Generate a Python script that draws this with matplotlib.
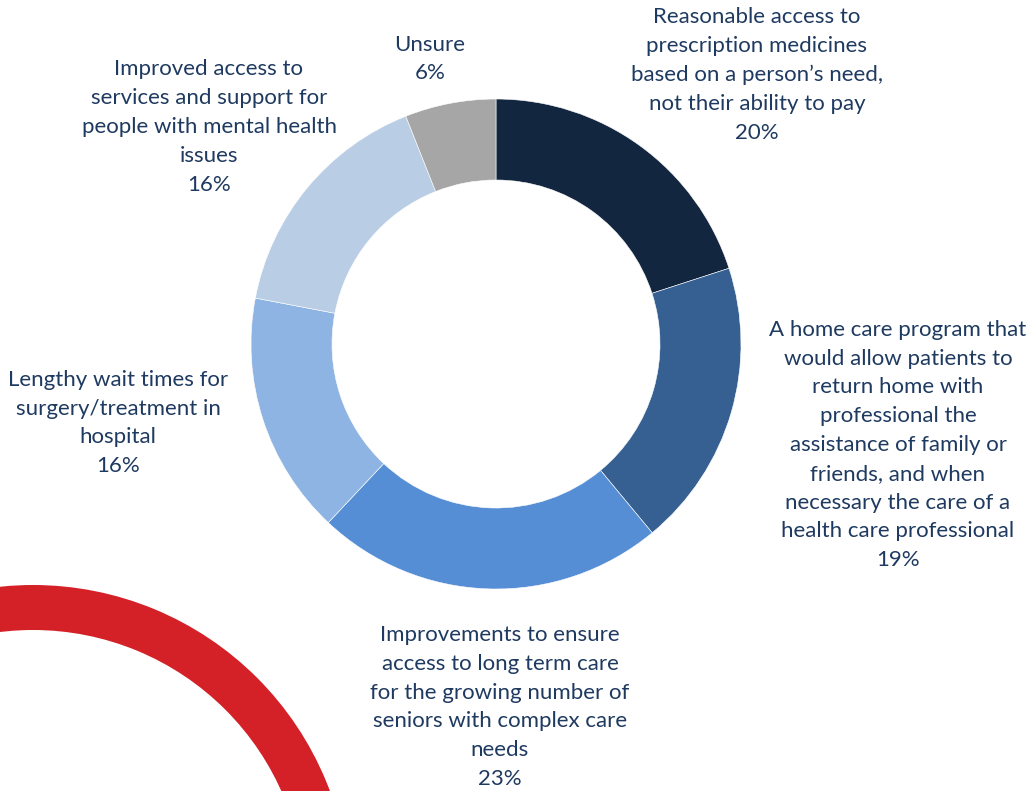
import matplotlib
matplotlib.use("Agg")
import matplotlib.pyplot as plt
from matplotlib.patches import Wedge

categories = [
    "Reasonable access to\nprescription medicines\nbased on a person\u2019s need,\nnot their ability to pay",
    "A home care program that\nwould allow patients to\nreturn home with\nprofessional the\nassistance of family or\nfriends, and when\nnecessary the care of a\nhealth care professional",
    "Improvements to ensure\naccess to long term care\nfor the growing number of\nseniors with complex care\nneeds",
    "Lengthy wait times for\nsurgery/treatment in\nhospital",
    "Improved access to\nservices and support for\npeople with mental health\nissues",
    "Unsure",
]
values = [20, 19, 23, 16, 16, 6]
colors = ["#132640", "#376092", "#558ED5", "#8EB4E3", "#B9CDE5", "#A6A6A6"]

# label anchor centres (pixel coords, y from top)
label_pos = [(757, 75), (898, 445), (500, 707), (118, 423), (209, 127), (430, 59)]

W, H = 1028, 791
fig = plt.figure(figsize=(W / 100, H / 100), dpi=100)
ax = fig.add_axes([0, 0, 1, 1])
ax.set_xlim(0, W)
ax.set_ylim(0, H)
ax.set_aspect("equal")
ax.axis("off")

# decorative red ring at bottom-left
ax.add_patch(Wedge((33, H - 902), 317, 0, 360, width=45, facecolor="#D42027",
                   edgecolor="none", zorder=0))

cx, cy = 496, H - 344
ax.pie(values, colors=colors, startangle=90, counterclock=False,
       radius=245, center=(cx, cy),
       wedgeprops=dict(width=81, edgecolor="white", linewidth=0.4))
ax.set_xlim(0, W)
ax.set_ylim(0, H)

txt_color = "#1F3A60"
for lab, v, (x, y) in zip(categories, values, label_pos):
    ax.text(x, H - y, f"{lab}\n{v}%", ha="center", va="center", fontsize=16,
            family="Lato", color=txt_color, linespacing=1.55)

fig.savefig("out.png", dpi=100)
